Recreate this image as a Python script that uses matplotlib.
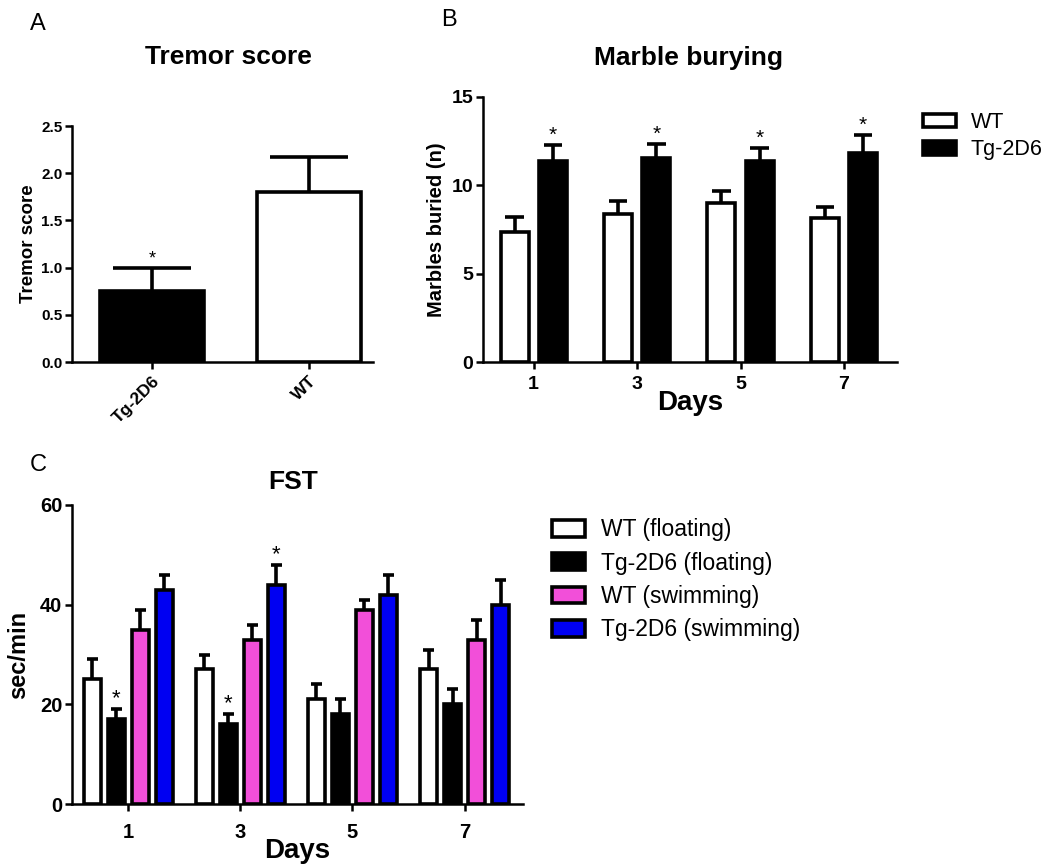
import matplotlib
matplotlib.use("Agg")
import numpy as np
import matplotlib.pyplot as plt
from matplotlib.patches import Patch

plt.rcParams['font.family'] = ['Liberation Sans', 'DejaVu Sans']

# Panel A: tremor score
tremor_groups = ["Tg-2D6", "WT"]
tremor_mean = [0.75, 1.80]
tremor_sem = [0.25, 0.37]
tremor_colors = ["black", "white"]
tremor_star = [True, False]

# Panel B: marble burying
days = ["1", "3", "5", "7"]
marble_wt = [7.35, 8.35, 9.0, 8.15]
marble_wt_sem = [0.85, 0.75, 0.65, 0.65]
marble_tg = [11.35, 11.55, 11.35, 11.85]
marble_tg_sem = [0.95, 0.8, 0.75, 1.0]

# Panel C: forced swim test
fst_labels = ["WT (floating)", "Tg-2D6 (floating)", "WT (swimming)", "Tg-2D6 (swimming)"]
fst_colors = ["white", "black", "#F24FD9", "#0000F2"]
fst_mean = [
    [25, 27, 21, 27],
    [17, 16, 18, 20],
    [35, 33, 39, 33],
    [43, 44, 42, 40],
]
fst_sem = [
    [4, 3, 3, 4],
    [2, 2, 3, 3],
    [4, 3, 2, 4],
    [3, 4, 4, 5],
]
fst_star = [
    [False, False, False, False],
    [True, True, False, False],
    [False, False, False, False],
    [False, True, False, False],
]

EDGE = 2.6


def style_axes(ax, tick_size, xpad=3):
    for side in ["top", "right"]:
        ax.spines[side].set_visible(False)
    for side in ["left", "bottom"]:
        ax.spines[side].set_linewidth(1.8)
    ax.tick_params(direction="out", length=5, width=1.8, labelsize=tick_size, pad=2)
    ax.tick_params(axis="x", pad=xpad)
    for lab in ax.get_xticklabels() + ax.get_yticklabels():
        lab.set_fontweight("bold")


def bars_with_err(ax, x, means, sems, color, width, cap, stars=None, star_size=14):
    ax.bar(x, means, width, color=color, edgecolor="black", linewidth=EDGE, zorder=2)
    tops = np.array(means) + np.array(sems)
    ax.vlines(x, means, tops, color="black", linewidth=EDGE, zorder=1)
    ax.hlines(tops, np.array(x) - cap, np.array(x) + cap, color="black", linewidth=EDGE, zorder=1)
    if stars is not None:
        for xi, t, s in zip(x, tops, stars):
            if s:
                ax.text(xi, t, "*", ha="center", va="bottom", fontsize=star_size)


fig = plt.figure(figsize=(10.5, 8.65), dpi=100)

# ---- A ----
axA = fig.add_axes([0.0686, 0.5815, 0.2867, 0.2728])
xa = np.arange(len(tremor_groups))
for i in range(len(xa)):
    bars_with_err(axA, [xa[i]], [tremor_mean[i]], [tremor_sem[i]], tremor_colors[i],
                  0.66, 0.25, [tremor_star[i]], star_size=13)
axA.set_xlim(-0.51, 1.41)
axA.set_ylim(0, 2.5)
axA.set_yticks([0, 0.5, 1.0, 1.5, 2.0, 2.5])
axA.set_yticklabels(["0.0", "0.5", "1.0", "1.5", "2.0", "2.5"])
axA.set_xticks(xa)
axA.set_xticklabels(tremor_groups, rotation=45, ha="right", rotation_mode="anchor")
axA.set_ylabel("Tremor score", fontsize=13.5, fontweight="bold", labelpad=3)
style_axes(axA, 11)
for lab in axA.get_xticklabels():
    lab.set_fontsize(12.5)
fig.text(0.218, 0.934, "Tremor score", fontsize=19, fontweight="bold", ha="center", va="center")
fig.text(0.036, 0.972, "A", fontsize=17, ha="center", va="center")

# ---- B ----
axB = fig.add_axes([0.46, 0.5815, 0.394, 0.3064])
xb = np.arange(len(days))
off = 0.185
bars_with_err(axB, xb - off, marble_wt, marble_wt_sem, "white", 0.27, 0.09)
bars_with_err(axB, xb + off, marble_tg, marble_tg_sem, "black", 0.27, 0.09,
              [True] * 4, star_size=15)
axB.set_xlim(-0.49, 3.51)
axB.set_ylim(0, 15)
axB.set_yticks([0, 5, 10, 15])
axB.set_xticks(xb)
axB.set_xticklabels(days)
axB.set_ylabel("Marbles buried (n)", fontsize=14.5, fontweight="bold", labelpad=4)
axB.set_xlabel("Days", fontsize=20, fontweight="bold", labelpad=-2)
style_axes(axB, 14, xpad=5)
fig.text(0.656, 0.933, "Marble burying", fontsize=19, fontweight="bold", ha="center", va="center")
fig.text(0.428, 0.977, "B", fontsize=17, ha="center", va="center")
fig.legend(handles=[Patch(facecolor="white", edgecolor="black", linewidth=EDGE, label="WT"),
                    Patch(facecolor="black", edgecolor="black", linewidth=EDGE, label="Tg-2D6")],
           loc="upper left", bbox_to_anchor=(0.861, 0.893), frameon=False, fontsize=15.5,
           handlelength=1.5, handleheight=0.6, labelspacing=0.3, handletextpad=0.7)

# ---- C ----
axC = fig.add_axes([0.0686, 0.0705, 0.4295, 0.3457])
xc = np.arange(len(days))
step = 0.214
for k in range(4):
    pos = xc + (k - 1.5) * step
    bars_with_err(axC, pos, fst_mean[k], fst_sem[k], fst_colors[k], 0.15, 0.05,
                  fst_star[k], star_size=16)
axC.set_xlim(-0.5, 3.52)
axC.set_ylim(0, 60)
axC.set_yticks([0, 20, 40, 60])
axC.set_xticks(xc)
axC.set_xticklabels(days)
axC.set_ylabel("sec/min", fontsize=17, fontweight="bold", labelpad=7)
axC.set_xlabel("Days", fontsize=20, fontweight="bold", labelpad=-3)
style_axes(axC, 14.5, xpad=9)
fig.text(0.279, 0.443, "FST", fontsize=19, fontweight="bold", ha="center", va="center")
fig.text(0.036, 0.462, "C", fontsize=17, ha="center", va="center")
fig.legend(handles=[Patch(facecolor=c, edgecolor="black", linewidth=EDGE, label=l)
                    for c, l in zip(fst_colors, fst_labels)],
           loc="upper left", bbox_to_anchor=(0.506, 0.4245), frameon=False, fontsize=16.5,
           handlelength=1.45, handleheight=0.75, labelspacing=0.45, handletextpad=0.7)

fig.savefig("out.png", dpi=100)
